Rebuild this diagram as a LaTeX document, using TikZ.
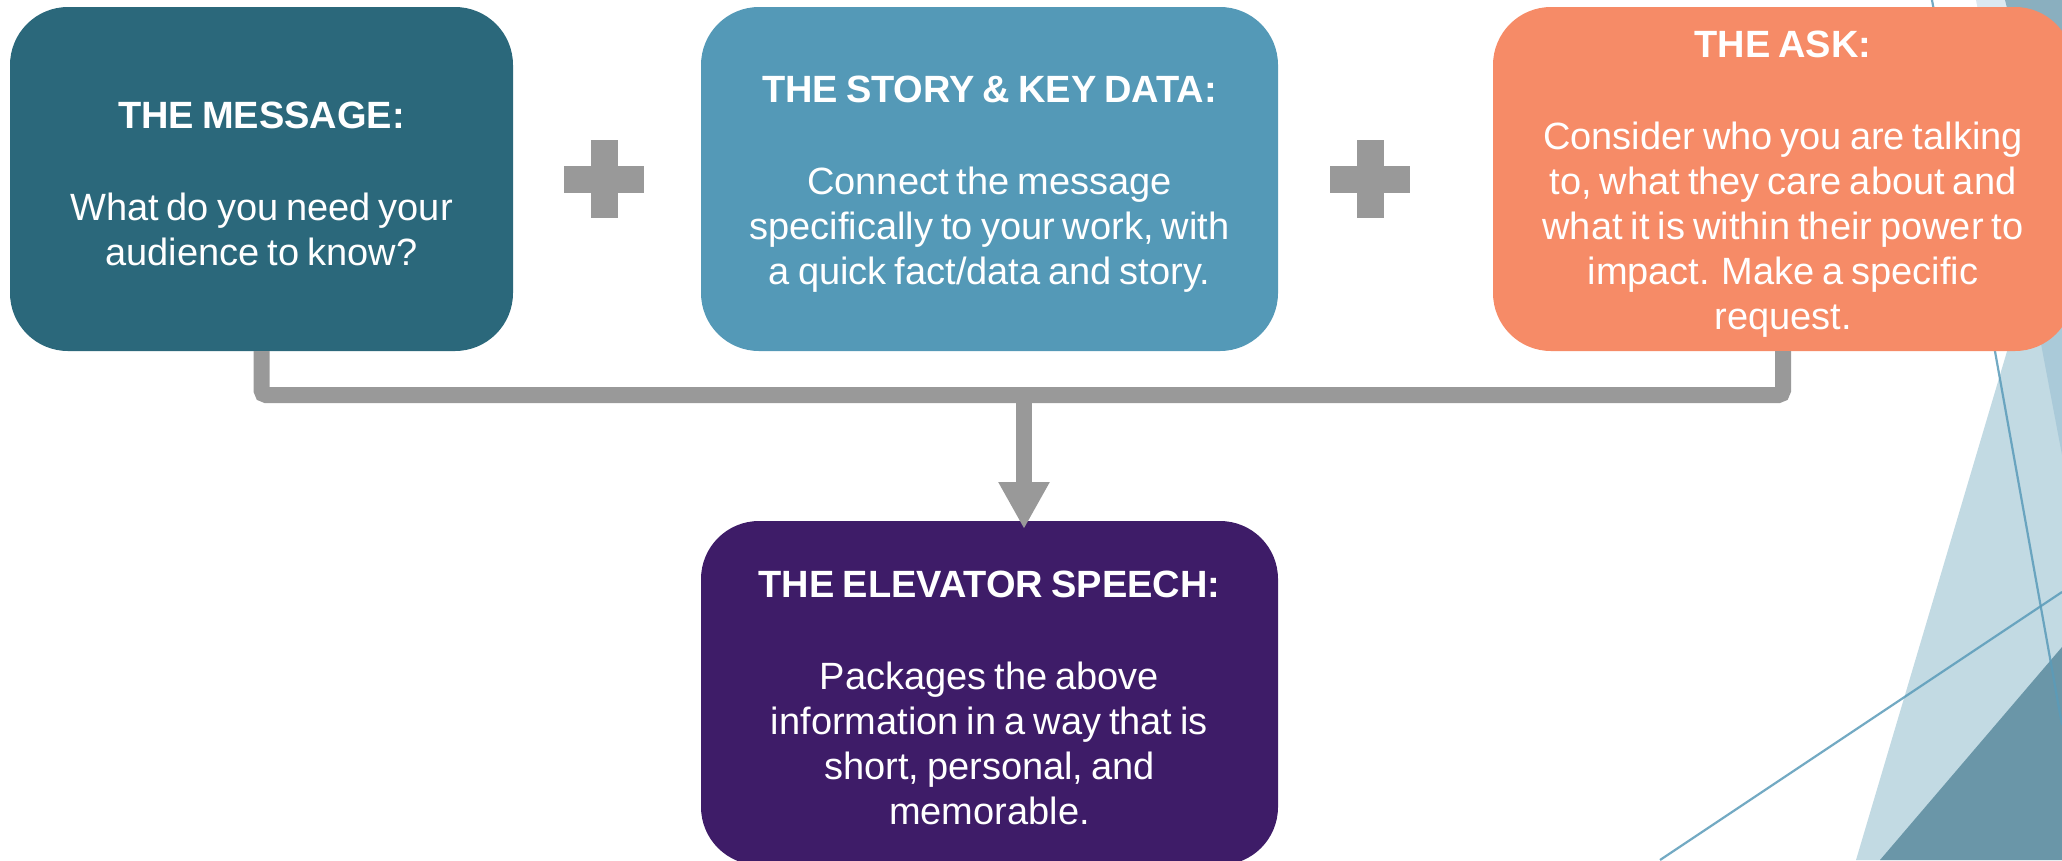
\documentclass[tikz,border=0pt]{standalone}
\usepackage{fontspec}
\setmainfont{Liberation Sans}
\usetikzlibrary{arrows.meta}
\definecolor{cMsg}{HTML}{2B687B}
\definecolor{cStory}{HTML}{5499B7}
\definecolor{cAsk}{HTML}{F68B67}
\definecolor{cElev}{HTML}{3E1C68}
\definecolor{cGray}{HTML}{999999}
\definecolor{cTri}{HTML}{C2DAE3}
\definecolor{cTint}{HTML}{4D8BB4}
\definecolor{cTop}{HTML}{8AAFBF}
\definecolor{cDark}{HTML}{6A96A8}
\definecolor{cLine}{HTML}{5A9BB9}
\newcommand\myCardFont{\fontsize{38}{45}\selectfont\spaceskip=8pt plus 2pt minus 2pt\relax}
\newcommand\myTitle[1]{\rule{0pt}{36pt}\textbf{#1}}
\begin{document}
\begin{tikzpicture}[x=1pt,y=-1pt,
  card/.style={rectangle, rounded corners=58pt, minimum width=#1, minimum height=344pt,
    inner sep=0pt, text=white, align=center, font=\myCardFont},
  plusbar/.style={rectangle, fill=cGray, inner sep=0pt, draw=none},
  conn/.style={line width=16pt, draw=cGray, rounded corners=5pt},
  arr/.style={line width=16pt, draw=cGray, -{Triangle[width=48pt,length=47pt]}},
  deco/.style={line width=2.2pt, draw=cLine, draw opacity=0.85}]
\useasboundingbox (0,0) rectangle (2062,860);
\clip (0,0) rectangle (2062,860);
% background facets
\fill[cTri] (1856,860) -- (2062,166) -- (2062,860) -- cycle;
\fill[cTint, fill opacity=0.2] (1976,0) -- (2062,455) -- (2062,0) -- cycle;
\fill[cTop] (2005,0) -- (2062,230) -- (2062,0) -- cycle;
\fill[cDark] (1880,860) -- (2062,647) -- (2062,860) -- cycle;
\coordinate (la) at (1932,0);
\coordinate (lb) at (2062,725);
\coordinate (lc) at (1660,860);
\coordinate (ld) at (2062,592);
\draw[deco] (la) -- (lb);
\draw[deco] (lc) -- (ld);
% cards
\node[card=503pt, fill=cMsg] (m1) at (261.5,179)
  {\myTitle{THE MESSAGE:}\\[47pt]What do you need your\\audience to know?};
\node[card=577pt, fill=cStory] (m2) at (989.5,179)
  {\myTitle{THE STORY \& KEY DATA:}\\[47pt]Connect the message\\specifically to your work, with\\a quick fact/data and story.};
\node[card=580pt, fill=cAsk] (m3) at (1783,179)
  {\myTitle{THE ASK:}\\[47pt]Consider who you are talking\\to, what they care about and\\what it is within their power to\\impact. Make a specific\\request.};
\node[card=577pt, fill=cElev] (m4) at (989.5,693)
  {\myTitle{THE ELEVATOR SPEECH:}\\[47pt]Packages the above\\information in a way that is\\short, personal, and\\memorable.};
% plus signs
\node[plusbar, minimum width=80pt, minimum height=27pt] (p1h) at (604,179) {};
\node[plusbar, minimum width=27pt, minimum height=78pt] (p1v) at (604,179) {};
\node[plusbar, minimum width=80pt, minimum height=27pt] (p2h) at (1370,179) {};
\node[plusbar, minimum width=27pt, minimum height=78pt] (p2v) at (1370,179) {};
% connectors
\draw[conn] (m1.south) -- ++(0,44) -| (m3.south);
\coordinate (j) at (1024,395);
\coordinate (tip) at (1024,529);
\draw[arr] (j) -- (tip);
\end{tikzpicture}
\end{document}
